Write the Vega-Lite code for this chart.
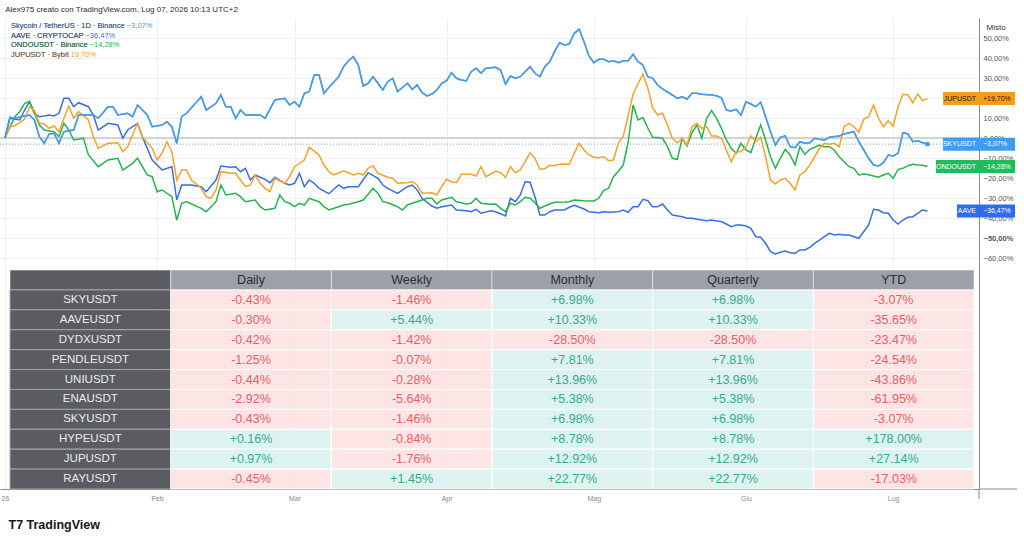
{
"$schema":"https://vega.github.io/schema/vega-lite/v6.json",
"width":979,"height":471,"autosize":"none",
"padding":{"left":0,"top":18,"right":45,"bottom":54},
"background":"#ffffff",
"config":{"view":{"stroke":null},"font":"Liberation Sans"},
"title":{"text":"Alex975 creato con TradingView.com, Lug 07, 2026 10:13 UTC+2","anchor":"start","fontSize":8,"fontWeight":"normal","color":"#2a2a2a","dx":6,"offset":4,"font":"Liberation Sans"},
"datasets":{
"sky":[{"date":"2026-01-01","pct":0},{"date":"2026-01-02","pct":10.35},{"date":"2026-01-03","pct":9.85},{"date":"2026-01-05","pct":11},{"date":"2026-01-06","pct":11.5},{"date":"2026-01-07","pct":9},{"date":"2026-01-08","pct":0.65},{"date":"2026-01-09","pct":-2.65},{"date":"2026-01-10","pct":2},{"date":"2026-01-11","pct":2.35},{"date":"2026-01-12","pct":-2.65},{"date":"2026-01-13","pct":3.15},{"date":"2026-01-15","pct":4},{"date":"2026-01-16","pct":11.5},{"date":"2026-01-19","pct":11.5},{"date":"2026-01-20","pct":9.85},{"date":"2026-01-22","pct":15.65},{"date":"2026-01-23","pct":15.65},{"date":"2026-01-24","pct":11.5},{"date":"2026-01-26","pct":12.35},{"date":"2026-01-27","pct":10.65},{"date":"2026-01-28","pct":16.5},{"date":"2026-01-30","pct":11.5},{"date":"2026-01-31","pct":5.65},{"date":"2026-02-02","pct":6.5},{"date":"2026-02-03","pct":8.15},{"date":"2026-02-04","pct":5.65},{"date":"2026-02-05","pct":-2.65},{"date":"2026-02-06","pct":10.65},{"date":"2026-02-07","pct":12.35},{"date":"2026-02-10","pct":20.65},{"date":"2026-02-11","pct":14},{"date":"2026-02-13","pct":17.35},{"date":"2026-02-14","pct":21.5},{"date":"2026-02-15","pct":15.65},{"date":"2026-02-16","pct":15.65},{"date":"2026-02-17","pct":9.85},{"date":"2026-02-18","pct":14},{"date":"2026-02-19","pct":11.5},{"date":"2026-02-21","pct":11.5},{"date":"2026-02-22","pct":11.5},{"date":"2026-02-23","pct":9.85},{"date":"2026-02-25","pct":19},{"date":"2026-02-27","pct":19.85},{"date":"2026-02-28","pct":16.5},{"date":"2026-03-01","pct":18.15},{"date":"2026-03-02","pct":15.65},{"date":"2026-03-03","pct":22.35},{"date":"2026-03-04","pct":23.15},{"date":"2026-03-05","pct":31.5},{"date":"2026-03-06","pct":31.5},{"date":"2026-03-07","pct":22.35},{"date":"2026-03-08","pct":25.3},{"date":"2026-03-10","pct":30.65},{"date":"2026-03-11","pct":35.65},{"date":"2026-03-12","pct":38.65},{"date":"2026-03-13","pct":40.65},{"date":"2026-03-14","pct":36.5},{"date":"2026-03-15","pct":26},{"date":"2026-03-16","pct":27.35},{"date":"2026-03-17","pct":30.65},{"date":"2026-03-18","pct":27.35},{"date":"2026-03-19","pct":24},{"date":"2026-03-20","pct":28.15},{"date":"2026-03-21","pct":29.85},{"date":"2026-03-22","pct":23.15},{"date":"2026-03-24","pct":27.35},{"date":"2026-03-25","pct":24.35},{"date":"2026-03-26","pct":26.5},{"date":"2026-03-27","pct":22.65},{"date":"2026-03-28","pct":21},{"date":"2026-03-29","pct":22},{"date":"2026-03-30","pct":24},{"date":"2026-03-31","pct":27.35},{"date":"2026-04-01","pct":28.65},{"date":"2026-04-02","pct":32.65},{"date":"2026-04-03","pct":29.85},{"date":"2026-04-04","pct":29},{"date":"2026-04-05","pct":28.5},{"date":"2026-04-06","pct":33.15},{"date":"2026-04-07","pct":34.85},{"date":"2026-04-08","pct":32.35},{"date":"2026-04-09","pct":34.85},{"date":"2026-04-11","pct":35.35},{"date":"2026-04-12","pct":34},{"date":"2026-04-13","pct":27},{"date":"2026-04-14","pct":31},{"date":"2026-04-15","pct":29.85},{"date":"2026-04-16","pct":30.65},{"date":"2026-04-17","pct":33.15},{"date":"2026-04-18","pct":35.65},{"date":"2026-04-19","pct":32.35},{"date":"2026-04-20","pct":30.65},{"date":"2026-04-21","pct":35.65},{"date":"2026-04-22","pct":38.15},{"date":"2026-04-23","pct":43.15},{"date":"2026-04-24","pct":47.65},{"date":"2026-04-25","pct":46.5},{"date":"2026-04-26","pct":47},{"date":"2026-04-27","pct":52.35},{"date":"2026-04-28","pct":54.35},{"date":"2026-04-29","pct":48.15},{"date":"2026-04-30","pct":41},{"date":"2026-05-01","pct":37.65},{"date":"2026-05-02","pct":39.35},{"date":"2026-05-03","pct":39.35},{"date":"2026-05-04","pct":38.15},{"date":"2026-05-05","pct":38.65},{"date":"2026-05-06","pct":37.65},{"date":"2026-05-07","pct":38.65},{"date":"2026-05-08","pct":38.65},{"date":"2026-05-09","pct":41.85},{"date":"2026-05-10","pct":38.15},{"date":"2026-05-11","pct":36.5},{"date":"2026-05-12","pct":30.65},{"date":"2026-05-13","pct":29.85},{"date":"2026-05-14","pct":26.5},{"date":"2026-05-15","pct":24.5},{"date":"2026-05-17","pct":21.5},{"date":"2026-05-18","pct":19.85},{"date":"2026-05-19","pct":20.65},{"date":"2026-05-20","pct":19.5},{"date":"2026-05-21","pct":22.35},{"date":"2026-05-22","pct":22.35},{"date":"2026-05-23","pct":21.85},{"date":"2026-05-25","pct":21.5},{"date":"2026-05-26","pct":21.15},{"date":"2026-05-27","pct":20.15},{"date":"2026-05-28","pct":14},{"date":"2026-05-29","pct":13.5},{"date":"2026-05-30","pct":14.35},{"date":"2026-05-31","pct":11.5},{"date":"2026-06-01","pct":18.15},{"date":"2026-06-02","pct":17},{"date":"2026-06-03","pct":15.65},{"date":"2026-06-04","pct":17.85},{"date":"2026-06-05","pct":10.65},{"date":"2026-06-06","pct":3.15},{"date":"2026-06-07","pct":-3.5},{"date":"2026-06-08","pct":0.35},{"date":"2026-06-09","pct":1},{"date":"2026-06-10","pct":-4.35},{"date":"2026-06-11","pct":-4.85},{"date":"2026-06-12","pct":-1.85},{"date":"2026-06-13","pct":-2.65},{"date":"2026-06-14","pct":-2.35},{"date":"2026-06-15","pct":-0.15},{"date":"2026-06-16","pct":-0.65},{"date":"2026-06-17","pct":-1},{"date":"2026-06-18","pct":0.35},{"date":"2026-06-20","pct":1},{"date":"2026-06-21","pct":2},{"date":"2026-06-23","pct":3.15},{"date":"2026-06-24","pct":-1.85},{"date":"2026-06-25","pct":-6},{"date":"2026-06-26","pct":-10.15},{"date":"2026-06-27","pct":-13.5},{"date":"2026-06-28","pct":-14},{"date":"2026-06-29","pct":-12.35},{"date":"2026-06-30","pct":-8.5},{"date":"2026-07-01","pct":-9},{"date":"2026-07-02","pct":-7.65},{"date":"2026-07-03","pct":2.65},{"date":"2026-07-04","pct":2},{"date":"2026-07-05","pct":-1.85},{"date":"2026-07-06","pct":-1.35},{"date":"2026-07-07","pct":-2.35},{"date":"2026-07-08","pct":-3.07}],
"aave":[{"date":"2026-01-01","pct":0},{"date":"2026-01-02","pct":9.85},{"date":"2026-01-04","pct":9},{"date":"2026-01-05","pct":14},{"date":"2026-01-06","pct":18.15},{"date":"2026-01-07","pct":12.35},{"date":"2026-01-08","pct":10.65},{"date":"2026-01-09","pct":11},{"date":"2026-01-10","pct":11.5},{"date":"2026-01-11","pct":11},{"date":"2026-01-12","pct":12.35},{"date":"2026-01-13","pct":19.85},{"date":"2026-01-14","pct":19.85},{"date":"2026-01-15","pct":15.65},{"date":"2026-01-16","pct":17.65},{"date":"2026-01-18","pct":15.65},{"date":"2026-01-19","pct":11.5},{"date":"2026-01-20","pct":4},{"date":"2026-01-22","pct":7.35},{"date":"2026-01-24","pct":6.5},{"date":"2026-01-25","pct":-0.15},{"date":"2026-01-26","pct":4},{"date":"2026-01-28","pct":7.35},{"date":"2026-01-29","pct":0.65},{"date":"2026-01-31","pct":-11},{"date":"2026-02-02","pct":-16},{"date":"2026-02-04","pct":-14.35},{"date":"2026-02-05","pct":-31},{"date":"2026-02-06","pct":-23.5},{"date":"2026-02-08","pct":-23.5},{"date":"2026-02-10","pct":-24.35},{"date":"2026-02-11","pct":-26.85},{"date":"2026-02-13","pct":-21},{"date":"2026-02-14","pct":-14},{"date":"2026-02-16","pct":-14.65},{"date":"2026-02-17","pct":-14.35},{"date":"2026-02-18","pct":-16.85},{"date":"2026-02-19","pct":-15.15},{"date":"2026-02-20","pct":-21},{"date":"2026-02-21","pct":-18.5},{"date":"2026-02-23","pct":-20.65},{"date":"2026-02-24","pct":-22.35},{"date":"2026-02-25","pct":-19.65},{"date":"2026-02-27","pct":-22.65},{"date":"2026-02-28","pct":-23.5},{"date":"2026-03-01","pct":-22.65},{"date":"2026-03-02","pct":-17.65},{"date":"2026-03-03","pct":-24.35},{"date":"2026-03-04","pct":-21},{"date":"2026-03-05","pct":-22.65},{"date":"2026-03-06","pct":-25.15},{"date":"2026-03-08","pct":-27.85},{"date":"2026-03-10","pct":-23.5},{"date":"2026-03-11","pct":-25.15},{"date":"2026-03-12","pct":-24.35},{"date":"2026-03-14","pct":-24.35},{"date":"2026-03-16","pct":-17.35},{"date":"2026-03-18","pct":-20.15},{"date":"2026-03-19","pct":-23.5},{"date":"2026-03-20","pct":-25.15},{"date":"2026-03-22","pct":-27.65},{"date":"2026-03-24","pct":-24.35},{"date":"2026-03-25","pct":-23.5},{"date":"2026-03-26","pct":-26},{"date":"2026-03-27","pct":-30.15},{"date":"2026-03-29","pct":-34},{"date":"2026-03-30","pct":-35.15},{"date":"2026-03-31","pct":-34.35},{"date":"2026-04-02","pct":-33.5},{"date":"2026-04-03","pct":-36},{"date":"2026-04-05","pct":-36.35},{"date":"2026-04-06","pct":-36.85},{"date":"2026-04-07","pct":-35.65},{"date":"2026-04-08","pct":-37.65},{"date":"2026-04-10","pct":-36.35},{"date":"2026-04-11","pct":-36.85},{"date":"2026-04-13","pct":-39},{"date":"2026-04-14","pct":-30.15},{"date":"2026-04-15","pct":-31.85},{"date":"2026-04-16","pct":-28.5},{"date":"2026-04-17","pct":-21.85},{"date":"2026-04-18","pct":-22.15},{"date":"2026-04-19","pct":-29.35},{"date":"2026-04-20","pct":-38.5},{"date":"2026-04-21","pct":-38.5},{"date":"2026-04-22","pct":-36.85},{"date":"2026-04-23","pct":-36},{"date":"2026-04-25","pct":-36},{"date":"2026-04-26","pct":-34.65},{"date":"2026-04-27","pct":-33.65},{"date":"2026-04-29","pct":-35.5},{"date":"2026-04-30","pct":-36.85},{"date":"2026-05-02","pct":-37.35},{"date":"2026-05-03","pct":-36.85},{"date":"2026-05-04","pct":-37.15},{"date":"2026-05-06","pct":-36.85},{"date":"2026-05-07","pct":-36},{"date":"2026-05-08","pct":-37.15},{"date":"2026-05-09","pct":-34.35},{"date":"2026-05-10","pct":-34.35},{"date":"2026-05-11","pct":-30.65},{"date":"2026-05-12","pct":-31.35},{"date":"2026-05-13","pct":-34.35},{"date":"2026-05-14","pct":-34.35},{"date":"2026-05-15","pct":-33},{"date":"2026-05-16","pct":-36},{"date":"2026-05-17","pct":-38.5},{"date":"2026-05-19","pct":-39.35},{"date":"2026-05-20","pct":-40.15},{"date":"2026-05-21","pct":-40.15},{"date":"2026-05-23","pct":-41},{"date":"2026-05-24","pct":-41.35},{"date":"2026-05-25","pct":-41},{"date":"2026-05-27","pct":-41.85},{"date":"2026-05-28","pct":-43},{"date":"2026-05-29","pct":-44.35},{"date":"2026-05-30","pct":-43.5},{"date":"2026-05-31","pct":-43.5},{"date":"2026-06-01","pct":-44},{"date":"2026-06-02","pct":-45.15},{"date":"2026-06-03","pct":-49.35},{"date":"2026-06-04","pct":-49.65},{"date":"2026-06-05","pct":-52.65},{"date":"2026-06-06","pct":-56.85},{"date":"2026-06-07","pct":-58},{"date":"2026-06-08","pct":-57.15},{"date":"2026-06-09","pct":-56.5},{"date":"2026-06-10","pct":-57.35},{"date":"2026-06-11","pct":-57.65},{"date":"2026-06-12","pct":-56},{"date":"2026-06-13","pct":-56},{"date":"2026-06-14","pct":-54.65},{"date":"2026-06-15","pct":-52.65},{"date":"2026-06-17","pct":-49.35},{"date":"2026-06-18","pct":-47.65},{"date":"2026-06-19","pct":-48.5},{"date":"2026-06-20","pct":-48.15},{"date":"2026-06-21","pct":-48.5},{"date":"2026-06-22","pct":-48.5},{"date":"2026-06-24","pct":-50.15},{"date":"2026-06-25","pct":-46.85},{"date":"2026-06-26","pct":-43.5},{"date":"2026-06-27","pct":-35.65},{"date":"2026-06-28","pct":-36},{"date":"2026-06-29","pct":-37.35},{"date":"2026-06-30","pct":-37.65},{"date":"2026-07-01","pct":-41},{"date":"2026-07-02","pct":-43},{"date":"2026-07-03","pct":-41},{"date":"2026-07-04","pct":-39.65},{"date":"2026-07-05","pct":-39.35},{"date":"2026-07-07","pct":-36},{"date":"2026-07-08","pct":-36.47}],
"jup":[{"date":"2026-01-01","pct":0},{"date":"2026-01-02","pct":5.65},{"date":"2026-01-03","pct":6.15},{"date":"2026-01-05","pct":9.35},{"date":"2026-01-06","pct":15.65},{"date":"2026-01-07","pct":13.65},{"date":"2026-01-08","pct":7.35},{"date":"2026-01-09","pct":7},{"date":"2026-01-10","pct":4.85},{"date":"2026-01-11","pct":6},{"date":"2026-01-12","pct":3.15},{"date":"2026-01-13","pct":9.85},{"date":"2026-01-14","pct":16},{"date":"2026-01-15","pct":9.85},{"date":"2026-01-16","pct":13.15},{"date":"2026-01-18","pct":9},{"date":"2026-01-19","pct":0.65},{"date":"2026-01-20","pct":-5.15},{"date":"2026-01-22","pct":-2.65},{"date":"2026-01-24","pct":-2.35},{"date":"2026-01-25","pct":-6.85},{"date":"2026-01-26","pct":-4.35},{"date":"2026-01-28","pct":7.35},{"date":"2026-01-29","pct":0.65},{"date":"2026-01-31","pct":-5.15},{"date":"2026-02-01","pct":-11},{"date":"2026-02-02","pct":-7.65},{"date":"2026-02-03","pct":-1.85},{"date":"2026-02-04","pct":-6.85},{"date":"2026-02-05","pct":-21},{"date":"2026-02-06","pct":-16},{"date":"2026-02-07","pct":-16},{"date":"2026-02-08","pct":-21},{"date":"2026-02-10","pct":-25.15},{"date":"2026-02-11","pct":-29.35},{"date":"2026-02-12","pct":-30.15},{"date":"2026-02-13","pct":-26},{"date":"2026-02-14","pct":-16.85},{"date":"2026-02-16","pct":-17.65},{"date":"2026-02-17","pct":-17.65},{"date":"2026-02-19","pct":-24.35},{"date":"2026-02-20","pct":-23.5},{"date":"2026-02-21","pct":-18.5},{"date":"2026-02-22","pct":-22.65},{"date":"2026-02-23","pct":-25.15},{"date":"2026-02-24","pct":-26.85},{"date":"2026-02-25","pct":-20.15},{"date":"2026-02-27","pct":-22.65},{"date":"2026-02-28","pct":-19.35},{"date":"2026-03-01","pct":-14.35},{"date":"2026-03-03","pct":-11},{"date":"2026-03-04","pct":-4.65},{"date":"2026-03-06","pct":-8.5},{"date":"2026-03-07","pct":-13.5},{"date":"2026-03-08","pct":-16.85},{"date":"2026-03-09","pct":-18.5},{"date":"2026-03-11","pct":-16.35},{"date":"2026-03-12","pct":-17.35},{"date":"2026-03-13","pct":-18.5},{"date":"2026-03-14","pct":-17.65},{"date":"2026-03-15","pct":-18.5},{"date":"2026-03-16","pct":-15.15},{"date":"2026-03-17","pct":-13.85},{"date":"2026-03-18","pct":-17.65},{"date":"2026-03-20","pct":-19.65},{"date":"2026-03-21","pct":-20.15},{"date":"2026-03-22","pct":-22.65},{"date":"2026-03-24","pct":-22.35},{"date":"2026-03-25","pct":-21.85},{"date":"2026-03-26","pct":-23.5},{"date":"2026-03-27","pct":-27.65},{"date":"2026-03-29","pct":-27.35},{"date":"2026-03-30","pct":-28.5},{"date":"2026-03-31","pct":-24.35},{"date":"2026-04-01","pct":-20.65},{"date":"2026-04-02","pct":-21.85},{"date":"2026-04-03","pct":-22.35},{"date":"2026-04-04","pct":-18.15},{"date":"2026-04-05","pct":-18.15},{"date":"2026-04-06","pct":-18.15},{"date":"2026-04-07","pct":-19},{"date":"2026-04-08","pct":-14.35},{"date":"2026-04-09","pct":-19.35},{"date":"2026-04-10","pct":-18},{"date":"2026-04-11","pct":-16.5},{"date":"2026-04-12","pct":-17.35},{"date":"2026-04-13","pct":-19.65},{"date":"2026-04-14","pct":-14.35},{"date":"2026-04-15","pct":-17.35},{"date":"2026-04-16","pct":-16},{"date":"2026-04-17","pct":-11.85},{"date":"2026-04-18","pct":-7.35},{"date":"2026-04-19","pct":-10.15},{"date":"2026-04-20","pct":-15.65},{"date":"2026-04-21","pct":-15.35},{"date":"2026-04-22","pct":-13.65},{"date":"2026-04-23","pct":-13.85},{"date":"2026-04-24","pct":-13.15},{"date":"2026-04-25","pct":-13},{"date":"2026-04-26","pct":-13.15},{"date":"2026-04-27","pct":-7.65},{"date":"2026-04-28","pct":-2.65},{"date":"2026-04-29","pct":-6},{"date":"2026-04-30","pct":-8.5},{"date":"2026-05-01","pct":-9.65},{"date":"2026-05-02","pct":-9.85},{"date":"2026-05-03","pct":-9.35},{"date":"2026-05-04","pct":-11.35},{"date":"2026-05-05","pct":-11},{"date":"2026-05-06","pct":-2.5},{"date":"2026-05-07","pct":1},{"date":"2026-05-08","pct":11},{"date":"2026-05-09","pct":22},{"date":"2026-05-10","pct":27},{"date":"2026-05-11","pct":32},{"date":"2026-05-12","pct":25},{"date":"2026-05-13","pct":15},{"date":"2026-05-14","pct":11.5},{"date":"2026-05-15","pct":12.35},{"date":"2026-05-16","pct":6.5},{"date":"2026-05-17","pct":-0.15},{"date":"2026-05-18","pct":-2.35},{"date":"2026-05-19","pct":-0.15},{"date":"2026-05-20","pct":-3.5},{"date":"2026-05-21","pct":5.65},{"date":"2026-05-22","pct":7.35},{"date":"2026-05-23","pct":4.85},{"date":"2026-05-24","pct":5.65},{"date":"2026-05-25","pct":1},{"date":"2026-05-26","pct":1},{"date":"2026-05-27","pct":-0.15},{"date":"2026-05-28","pct":-6},{"date":"2026-05-29","pct":-11.85},{"date":"2026-05-30","pct":-6.85},{"date":"2026-05-31","pct":-6.85},{"date":"2026-06-01","pct":-4.35},{"date":"2026-06-02","pct":1},{"date":"2026-06-03","pct":-1.85},{"date":"2026-06-04","pct":0.35},{"date":"2026-06-05","pct":-9.35},{"date":"2026-06-06","pct":-21},{"date":"2026-06-07","pct":-23},{"date":"2026-06-08","pct":-21},{"date":"2026-06-09","pct":-20.15},{"date":"2026-06-10","pct":-22.65},{"date":"2026-06-11","pct":-26},{"date":"2026-06-12","pct":-18.5},{"date":"2026-06-13","pct":-16.85},{"date":"2026-06-14","pct":-13.5},{"date":"2026-06-15","pct":-9.35},{"date":"2026-06-16","pct":-5.15},{"date":"2026-06-17","pct":-2.65},{"date":"2026-06-18","pct":-3.15},{"date":"2026-06-19","pct":-2.65},{"date":"2026-06-20","pct":-4.35},{"date":"2026-06-21","pct":5.65},{"date":"2026-06-22","pct":7.35},{"date":"2026-06-23","pct":5.65},{"date":"2026-06-24","pct":2.85},{"date":"2026-06-25","pct":9.35},{"date":"2026-06-26","pct":10.65},{"date":"2026-06-27","pct":16.5},{"date":"2026-06-28","pct":9.85},{"date":"2026-06-29","pct":5.65},{"date":"2026-06-30","pct":8.65},{"date":"2026-07-01","pct":6},{"date":"2026-07-02","pct":15.65},{"date":"2026-07-03","pct":21.85},{"date":"2026-07-04","pct":21.5},{"date":"2026-07-05","pct":17.65},{"date":"2026-07-06","pct":22},{"date":"2026-07-07","pct":18.65},{"date":"2026-07-08","pct":19.7}],
"ondo":[{"date":"2026-01-01","pct":0},{"date":"2026-01-03","pct":10.65},{"date":"2026-01-04","pct":13.15},{"date":"2026-01-05","pct":17.35},{"date":"2026-01-06","pct":18.15},{"date":"2026-01-07","pct":12.35},{"date":"2026-01-08","pct":6.5},{"date":"2026-01-09","pct":4},{"date":"2026-01-11","pct":3.15},{"date":"2026-01-12","pct":0.65},{"date":"2026-01-13","pct":7.35},{"date":"2026-01-14","pct":4},{"date":"2026-01-15","pct":-1},{"date":"2026-01-17","pct":-0.15},{"date":"2026-01-18","pct":-8.5},{"date":"2026-01-20","pct":-14.35},{"date":"2026-01-22","pct":-11},{"date":"2026-01-24","pct":-10.15},{"date":"2026-01-25","pct":-16},{"date":"2026-01-27","pct":-12.65},{"date":"2026-01-28","pct":-10.15},{"date":"2026-01-30","pct":-18.5},{"date":"2026-01-31","pct":-19.35},{"date":"2026-02-01","pct":-26.85},{"date":"2026-02-02","pct":-26},{"date":"2026-02-04","pct":-29.35},{"date":"2026-02-05","pct":-41},{"date":"2026-02-06","pct":-32.65},{"date":"2026-02-07","pct":-31.85},{"date":"2026-02-10","pct":-35.15},{"date":"2026-02-11","pct":-36.85},{"date":"2026-02-13","pct":-31.85},{"date":"2026-02-14","pct":-23.5},{"date":"2026-02-15","pct":-28.5},{"date":"2026-02-17","pct":-27.65},{"date":"2026-02-18","pct":-29.35},{"date":"2026-02-19","pct":-31.85},{"date":"2026-02-21","pct":-31},{"date":"2026-02-22","pct":-34.35},{"date":"2026-02-23","pct":-36},{"date":"2026-02-25","pct":-35.15},{"date":"2026-02-26","pct":-28.5},{"date":"2026-02-27","pct":-31.85},{"date":"2026-02-28","pct":-32.65},{"date":"2026-03-01","pct":-34.35},{"date":"2026-03-02","pct":-32.65},{"date":"2026-03-03","pct":-33.5},{"date":"2026-03-04","pct":-30.15},{"date":"2026-03-06","pct":-31.85},{"date":"2026-03-07","pct":-34.35},{"date":"2026-03-08","pct":-36},{"date":"2026-03-10","pct":-34.35},{"date":"2026-03-11","pct":-33.5},{"date":"2026-03-12","pct":-33.15},{"date":"2026-03-14","pct":-31.85},{"date":"2026-03-15","pct":-31},{"date":"2026-03-17","pct":-25.15},{"date":"2026-03-18","pct":-27.65},{"date":"2026-03-19","pct":-31.85},{"date":"2026-03-20","pct":-32.35},{"date":"2026-03-22","pct":-34.35},{"date":"2026-03-23","pct":-36},{"date":"2026-03-24","pct":-33.5},{"date":"2026-03-25","pct":-32.65},{"date":"2026-03-27","pct":-31},{"date":"2026-03-28","pct":-30.15},{"date":"2026-03-29","pct":-30.15},{"date":"2026-03-30","pct":-33},{"date":"2026-03-31","pct":-31},{"date":"2026-04-02","pct":-29.65},{"date":"2026-04-03","pct":-31.85},{"date":"2026-04-04","pct":-32.35},{"date":"2026-04-05","pct":-33},{"date":"2026-04-06","pct":-32.65},{"date":"2026-04-07","pct":-30.15},{"date":"2026-04-08","pct":-32.65},{"date":"2026-04-10","pct":-33.15},{"date":"2026-04-11","pct":-33},{"date":"2026-04-12","pct":-35.15},{"date":"2026-04-13","pct":-36.85},{"date":"2026-04-14","pct":-32.65},{"date":"2026-04-15","pct":-33.5},{"date":"2026-04-16","pct":-31.85},{"date":"2026-04-17","pct":-29.65},{"date":"2026-04-18","pct":-30.15},{"date":"2026-04-19","pct":-32.35},{"date":"2026-04-20","pct":-35.15},{"date":"2026-04-21","pct":-34},{"date":"2026-04-22","pct":-33},{"date":"2026-04-23","pct":-32.15},{"date":"2026-04-25","pct":-32},{"date":"2026-04-26","pct":-31.85},{"date":"2026-04-27","pct":-31},{"date":"2026-04-29","pct":-31.35},{"date":"2026-05-01","pct":-31.5},{"date":"2026-05-02","pct":-30.15},{"date":"2026-05-03","pct":-26.35},{"date":"2026-05-04","pct":-25.15},{"date":"2026-05-05","pct":-19.35},{"date":"2026-05-06","pct":-16.6},{"date":"2026-05-07","pct":-13.5},{"date":"2026-05-08","pct":-2},{"date":"2026-05-09","pct":16.5},{"date":"2026-05-10","pct":9},{"date":"2026-05-11","pct":10.25},{"date":"2026-05-12","pct":5},{"date":"2026-05-13","pct":0.35},{"date":"2026-05-14","pct":0.25},{"date":"2026-05-15","pct":-0.15},{"date":"2026-05-16","pct":-4.35},{"date":"2026-05-17","pct":-10.15},{"date":"2026-05-18","pct":-10.65},{"date":"2026-05-19","pct":-0.15},{"date":"2026-05-20","pct":-4},{"date":"2026-05-21","pct":2.65},{"date":"2026-05-22","pct":6.5},{"date":"2026-05-23","pct":-0.15},{"date":"2026-05-24","pct":9.85},{"date":"2026-05-25","pct":13.65},{"date":"2026-05-26","pct":9.85},{"date":"2026-05-27","pct":4.85},{"date":"2026-05-28","pct":-1},{"date":"2026-05-29","pct":-5.15},{"date":"2026-05-30","pct":-7.65},{"date":"2026-05-31","pct":-2.65},{"date":"2026-06-01","pct":-6},{"date":"2026-06-02","pct":-7.35},{"date":"2026-06-03","pct":-0.15},{"date":"2026-06-04","pct":6.5},{"date":"2026-06-05","pct":-1},{"date":"2026-06-06","pct":-9.35},{"date":"2026-06-07","pct":-15.15},{"date":"2026-06-08","pct":-10.15},{"date":"2026-06-09","pct":-5.65},{"date":"2026-06-10","pct":-8.5},{"date":"2026-06-11","pct":-13.5},{"date":"2026-06-12","pct":-4.35},{"date":"2026-06-13","pct":-8.15},{"date":"2026-06-14","pct":-5.65},{"date":"2026-06-15","pct":-4.65},{"date":"2026-06-16","pct":-3.5},{"date":"2026-06-17","pct":-4.35},{"date":"2026-06-18","pct":-4.35},{"date":"2026-06-19","pct":-6},{"date":"2026-06-20","pct":-9.35},{"date":"2026-06-21","pct":-11.85},{"date":"2026-06-22","pct":-14.35},{"date":"2026-06-23","pct":-15.15},{"date":"2026-06-24","pct":-18.5},{"date":"2026-06-25","pct":-18},{"date":"2026-06-26","pct":-18.35},{"date":"2026-06-27","pct":-19},{"date":"2026-06-28","pct":-19.65},{"date":"2026-06-29","pct":-18.5},{"date":"2026-06-30","pct":-17.65},{"date":"2026-07-01","pct":-20.15},{"date":"2026-07-02","pct":-15.65},{"date":"2026-07-03","pct":-15.15},{"date":"2026-07-04","pct":-13.85},{"date":"2026-07-05","pct":-13.15},{"date":"2026-07-06","pct":-13.5},{"date":"2026-07-07","pct":-13.65},{"date":"2026-07-08","pct":-14.28}],
"tags":[{"sym":"JUP","label":"JUPUSDT","val":"+19,70%","pct":19.7,"date":"2026-07-08"},{"sym":"SKY","label":"SKYUSDT","val":"−3,07%","pct":-3.07,"date":"2026-07-08"},{"sym":"ONDO","label":"ONDOUSDT","val":"−14,28%","pct":-14.28,"date":"2026-07-08"},{"sym":"AAVE","label":"AAVE","val":"−36,47%","pct":-36.47,"date":"2026-07-08"}],
"legend":[{"k":0,"sym":"SKY","name":"Skycoin / TetherUS · 1D · Binance","val":"−3,07%"},{"k":1,"sym":"AAVE","name":"AAVE · CRYPTOCAP","val":"−36,47%"},{"k":2,"sym":"ONDO","name":"ONDOUSDT · Binance","val":"−14,28%"},{"k":3,"sym":"JUP","name":"JUPUSDT · Bybit","val":"19,70%"}],
"hdr":[{"r":0,"col":"Symbol","label":""},{"r":0,"col":"Daily","label":"Daily"},{"r":0,"col":"Weekly","label":"Weekly"},{"r":0,"col":"Monthly","label":"Monthly"},{"r":0,"col":"Quarterly","label":"Quarterly"},{"r":0,"col":"YTD","label":"YTD"}],
"tbl":[
{"r":1,"name":"SKYUSDT","Daily":-0.43,"Weekly":-1.46,"Monthly":6.98,"Quarterly":6.98,"YTD":-3.07},
{"r":2,"name":"AAVEUSDT","Daily":-0.30,"Weekly":5.44,"Monthly":10.33,"Quarterly":10.33,"YTD":-35.65},
{"r":3,"name":"DYDXUSDT","Daily":-0.42,"Weekly":-1.42,"Monthly":-28.50,"Quarterly":-28.50,"YTD":-23.47},
{"r":4,"name":"PENDLEUSDT","Daily":-1.25,"Weekly":-0.07,"Monthly":7.81,"Quarterly":7.81,"YTD":-24.54},
{"r":5,"name":"UNIUSDT","Daily":-0.44,"Weekly":-0.28,"Monthly":13.96,"Quarterly":13.96,"YTD":-43.86},
{"r":6,"name":"ENAUSDT","Daily":-2.92,"Weekly":-5.64,"Monthly":5.38,"Quarterly":5.38,"YTD":-61.95},
{"r":7,"name":"SKYUSDT","Daily":-0.43,"Weekly":-1.46,"Monthly":6.98,"Quarterly":6.98,"YTD":-3.07},
{"r":8,"name":"HYPEUSDT","Daily":0.16,"Weekly":-0.84,"Monthly":8.78,"Quarterly":8.78,"YTD":178.00},
{"r":9,"name":"JUPUSDT","Daily":0.97,"Weekly":-1.76,"Monthly":12.92,"Quarterly":12.92,"YTD":27.14},
{"r":10,"name":"RAYUSDT","Daily":-0.45,"Weekly":1.45,"Monthly":22.77,"Quarterly":22.77,"YTD":-17.03}]
},
"layer":[
{
"layer":[
{"data":{"name":"sky"},"mark":{"type":"line","color":"#4A9BE6","strokeWidth":1.5},
"encoding":{
"x":{"field":"date","type":"temporal","scale":{"type":"utc","domain":[{"year":2025,"month":12,"date":30,"hours":23,"minutes":32,"utc":true},{"year":2026,"month":7,"date":18,"hours":11,"minutes":46,"utc":true}],"nice":false},
"axis":{"title":"T7 TradingView","titleFont":"Liberation Sans","titleFontSize":12.5,"titleFontWeight":"bold","titleColor":"#131722","titleAnchor":"start","titleAlign":"left","titleBaseline":"middle","titleX":8,"titleY":35,
"values":[{"year":2026,"month":1,"date":1,"utc":true},{"year":2026,"month":2,"date":1,"utc":true},{"year":2026,"month":3,"date":1,"utc":true},{"year":2026,"month":4,"date":1,"utc":true},{"year":2026,"month":5,"date":1,"utc":true},{"year":2026,"month":6,"date":1,"utc":true},{"year":2026,"month":7,"date":1,"utc":true}],
"labelExpr":"['26','Feb','Mar','Apr','Mag','Giu','Lug'][utcmonth(datum.value)]","labelFontSize":7,"labelColor":"#8a8a8a","labelPadding":5,"ticks":false,"domain":true,"domainColor":"#8a8a8a","grid":true,"gridColor":"#eceff4","labelFont":"Liberation Sans"}},
"y":{"field":"pct","type":"quantitative","scale":{"domain":[-175.5,60],"nice":false,"zero":false},
"axis":{"orient":"right","title":"Misto","titleAngle":0,"titleAlign":"left","titleBaseline":"middle","titleX":7,"titleY":9,"titleFontSize":8,"titleFontWeight":"normal","titleColor":"#333333","titleFont":"Liberation Sans",
"values":[-60,-50,-40,-30,-20,-10,0,10,20,30,40,50],
"labelExpr":"(datum.value < 0 ? '−' : '') + replace(format(abs(datum.value), '.2f'), '.', ',') + '%'",
"labelFontSize":7.5,"labelColor":"#555555","labelPadding":4,"labelFont":"Liberation Sans","ticks":false,"domain":true,"domainColor":"#8a8a8a","grid":true,"gridColor":"#eceff4",
"labelFontWeight":{"condition":{"test":"datum.value == -50","value":"bold"},"value":"normal"}}}}},
{"data":{"values":[{}]},"mark":{"type":"rule","color":"#c5c7cd","strokeWidth":1.5},
"encoding":{"y":{"datum":0,"type":"quantitative","scale":{"domain":[-175.5,60],"nice":false,"zero":false}}}},
{"data":{"name":"tags"},"transform":[{"filter":"datum.sym === 'SKY'"}],"mark":{"type":"rule","color":"#7fa9d9","strokeDash":[1,2],"strokeWidth":1},
"encoding":{"y":{"field":"pct","type":"quantitative","scale":{"domain":[-175.5,60],"nice":false,"zero":false}}}},
{"data":{"name":"aave"},"mark":{"type":"line","color":"#3A6EE0","strokeWidth":1.5},
"encoding":{"x":{"field":"date","type":"temporal","scale":{"type":"utc","domain":[{"year":2025,"month":12,"date":30,"hours":23,"minutes":32,"utc":true},{"year":2026,"month":7,"date":18,"hours":11,"minutes":46,"utc":true}],"nice":false}},
"y":{"field":"pct","type":"quantitative","scale":{"domain":[-175.5,60],"nice":false,"zero":false}}}},
{"data":{"name":"ondo"},"mark":{"type":"line","color":"#25B24F","strokeWidth":1.5},
"encoding":{"x":{"field":"date","type":"temporal","scale":{"type":"utc","domain":[{"year":2025,"month":12,"date":30,"hours":23,"minutes":32,"utc":true},{"year":2026,"month":7,"date":18,"hours":11,"minutes":46,"utc":true}],"nice":false}},
"y":{"field":"pct","type":"quantitative","scale":{"domain":[-175.5,60],"nice":false,"zero":false}}}},
{"data":{"name":"jup"},"mark":{"type":"line","color":"#F5A229","strokeWidth":1.5},
"encoding":{"x":{"field":"date","type":"temporal","scale":{"type":"utc","domain":[{"year":2025,"month":12,"date":30,"hours":23,"minutes":32,"utc":true},{"year":2026,"month":7,"date":18,"hours":11,"minutes":46,"utc":true}],"nice":false}},
"y":{"field":"pct","type":"quantitative","scale":{"domain":[-175.5,60],"nice":false,"zero":false}}}},
{"data":{"name":"sky"},"mark":{"type":"line","color":"#4A9BE6","strokeWidth":1.5},
"encoding":{"x":{"field":"date","type":"temporal","scale":{"type":"utc","domain":[{"year":2025,"month":12,"date":30,"hours":23,"minutes":32,"utc":true},{"year":2026,"month":7,"date":18,"hours":11,"minutes":46,"utc":true}],"nice":false}},
"y":{"field":"pct","type":"quantitative","scale":{"domain":[-175.5,60],"nice":false,"zero":false}}}},
{"data":{"name":"tags"},"transform":[{"filter":"datum.sym === 'SKY'"}],"mark":{"type":"point","filled":true,"color":"#4A9BE6","size":22,"opacity":1},
"encoding":{"x":{"field":"date","type":"temporal","scale":{"type":"utc","domain":[{"year":2025,"month":12,"date":30,"hours":23,"minutes":32,"utc":true},{"year":2026,"month":7,"date":18,"hours":11,"minutes":46,"utc":true}],"nice":false}},
"y":{"field":"pct","type":"quantitative","scale":{"domain":[-175.5,60],"nice":false,"zero":false}}}},
{"data":{"values":[{}]},"mark":{"type":"rule","color":"#8a8a8a","strokeWidth":1},
"encoding":{"x":{"datum":{"year":2026,"month":7,"date":18,"hours":11,"minutes":46,"utc":true},"type":"temporal","scale":{"type":"utc","domain":[{"year":2025,"month":12,"date":30,"hours":23,"minutes":32,"utc":true},{"year":2026,"month":7,"date":18,"hours":11,"minutes":46,"utc":true}],"nice":false}},
"x2":{"datum":{"year":2026,"month":7,"date":26,"hours":6,"utc":true}},
"y":{"datum":-175.5,"type":"quantitative","scale":{"domain":[-175.5,60],"nice":false,"zero":false}}}},
{"data":{"values":[{}]},"mark":{"type":"rule","color":"#8a8a8a","strokeWidth":1},
"encoding":{"x":{"datum":{"year":2026,"month":7,"date":18,"hours":11,"minutes":46,"utc":true},"type":"temporal","scale":{"type":"utc","domain":[{"year":2025,"month":12,"date":30,"hours":23,"minutes":32,"utc":true},{"year":2026,"month":7,"date":18,"hours":11,"minutes":46,"utc":true}],"nice":false}},
"y":{"datum":-175.5,"type":"quantitative","scale":{"domain":[-175.5,60],"nice":false,"zero":false}},
"y2":{"datum":-180.5}}},
{"data":{"name":"tags"},"transform":[{"filter":"datum.sym === 'JUP'"}],"mark":{"type":"rule","color":"#F89D1A","strokeWidth":13,"strokeCap":"butt"},
"encoding":{"x":{"datum":{"year":2026,"month":7,"date":11,"hours":4,"utc":true},"type":"temporal","scale":{"type":"utc","domain":[{"year":2025,"month":12,"date":30,"hours":23,"minutes":32,"utc":true},{"year":2026,"month":7,"date":18,"hours":11,"minutes":46,"utc":true}],"nice":false}},
"x2":{"datum":{"year":2026,"month":7,"date":25,"hours":20,"utc":true}},
"y":{"field":"pct","type":"quantitative","scale":{"domain":[-175.5,60],"nice":false,"zero":false}}}},
{"data":{"name":"tags"},"transform":[{"filter":"datum.sym === 'SKY'"}],"mark":{"type":"rule","color":"#3F9CEE","strokeWidth":13,"strokeCap":"butt"},
"encoding":{"x":{"datum":{"year":2026,"month":7,"date":11,"hours":4,"utc":true},"type":"temporal","scale":{"type":"utc","domain":[{"year":2025,"month":12,"date":30,"hours":23,"minutes":32,"utc":true},{"year":2026,"month":7,"date":18,"hours":11,"minutes":46,"utc":true}],"nice":false}},
"x2":{"datum":{"year":2026,"month":7,"date":25,"hours":20,"utc":true}},
"y":{"field":"pct","type":"quantitative","scale":{"domain":[-175.5,60],"nice":false,"zero":false}}}},
{"data":{"name":"tags"},"transform":[{"filter":"datum.sym === 'ONDO'"}],"mark":{"type":"rule","color":"#1DBE5A","strokeWidth":13,"strokeCap":"butt"},
"encoding":{"x":{"datum":{"year":2026,"month":7,"date":9,"hours":17,"utc":true},"type":"temporal","scale":{"type":"utc","domain":[{"year":2025,"month":12,"date":30,"hours":23,"minutes":32,"utc":true},{"year":2026,"month":7,"date":18,"hours":11,"minutes":46,"utc":true}],"nice":false}},
"x2":{"datum":{"year":2026,"month":7,"date":25,"hours":20,"utc":true}},
"y":{"field":"pct","type":"quantitative","scale":{"domain":[-175.5,60],"nice":false,"zero":false}}}},
{"data":{"name":"tags"},"transform":[{"filter":"datum.sym === 'AAVE'"}],"mark":{"type":"rule","color":"#2F6CEB","strokeWidth":13,"strokeCap":"butt"},
"encoding":{"x":{"datum":{"year":2026,"month":7,"date":14,"utc":true},"type":"temporal","scale":{"type":"utc","domain":[{"year":2025,"month":12,"date":30,"hours":23,"minutes":32,"utc":true},{"year":2026,"month":7,"date":18,"hours":11,"minutes":46,"utc":true}],"nice":false}},
"x2":{"datum":{"year":2026,"month":7,"date":25,"hours":20,"utc":true}},
"y":{"field":"pct","type":"quantitative","scale":{"domain":[-175.5,60],"nice":false,"zero":false}}}},
{"data":{"name":"tags"},"mark":{"type":"text","align":"right","baseline":"middle","dx":-3,"fontSize":7,"font":"Liberation Sans"},
"encoding":{"x":{"datum":{"year":2026,"month":7,"date":18,"hours":11,"minutes":46,"utc":true},"type":"temporal","scale":{"type":"utc","domain":[{"year":2025,"month":12,"date":30,"hours":23,"minutes":32,"utc":true},{"year":2026,"month":7,"date":18,"hours":11,"minutes":46,"utc":true}],"nice":false}},
"y":{"field":"pct","type":"quantitative","scale":{"domain":[-175.5,60],"nice":false,"zero":false}},
"text":{"field":"label"},
"color":{"condition":{"test":"datum.sym === 'JUP'","value":"#2a1a00"},"value":"#ffffff"}}},
{"data":{"name":"tags"},"mark":{"type":"text","align":"left","baseline":"middle","dx":4,"fontSize":7,"font":"Liberation Sans"},
"encoding":{"x":{"datum":{"year":2026,"month":7,"date":18,"hours":11,"minutes":46,"utc":true},"type":"temporal","scale":{"type":"utc","domain":[{"year":2025,"month":12,"date":30,"hours":23,"minutes":32,"utc":true},{"year":2026,"month":7,"date":18,"hours":11,"minutes":46,"utc":true}],"nice":false}},
"y":{"field":"pct","type":"quantitative","scale":{"domain":[-175.5,60],"nice":false,"zero":false}},
"text":{"field":"val"},
"color":{"condition":{"test":"datum.sym === 'JUP'","value":"#2a1a00"},"value":"#ffffff"}}}
]
},
{
"encoding":{
"x":{"field":"col","type":"nominal","scale":{"type":"band","domain":["Symbol","Daily","Weekly","Monthly","Quarterly","YTD"],"paddingInner":0,"paddingOuter":0.0467,"align":0.667},"axis":null},
"y":{"field":"r","type":"ordinal","scale":{"type":"band","domain":[-12,-11,-10,-9,-8,-7,-6,-5,-4,-3,-2,-1,0,1,2,3,4,5,6,7,8,9,10],"paddingInner":0,"paddingOuter":0.329,"align":1},"axis":null}
},
"layer":[
{"data":{"name":"hdr"},"mark":{"type":"rect","stroke":"#ffffff","strokeWidth":1,"strokeOpacity":0.5,"opacity":0.96},
"encoding":{"fill":{"condition":{"test":"datum.col === 'Symbol'","value":"#55575d"},"value":"#9a9da5"}}},
{"data":{"name":"hdr"},"mark":{"type":"text","fontSize":12.5,"color":"#2b2d33","font":"Liberation Sans","baseline":"middle"},
"encoding":{"text":{"field":"label"}}},
{"data":{"name":"tbl"},"transform":[{"calculate":"'Symbol'","as":"col"}],"mark":{"type":"rect","fill":"#55575d","stroke":"#a3a5ab","strokeWidth":1,"opacity":0.97}},
{"data":{"name":"tbl"},"transform":[{"calculate":"'Symbol'","as":"col"}],"mark":{"type":"text","fontSize":11.5,"color":"#ebebec","font":"Liberation Sans","baseline":"middle"},
"encoding":{"text":{"field":"name"}}},
{"data":{"name":"tbl"},"transform":[{"fold":["Daily","Weekly","Monthly","Quarterly","YTD"],"as":["col","v"]}],"mark":{"type":"rect","stroke":"#ffffff","strokeWidth":1,"opacity":0.92},
"encoding":{"fill":{"condition":{"test":"datum.v >= 0","value":"#dcf2ee"},"value":"#fde3e3"}}},
{"data":{"name":"tbl"},"transform":[{"fold":["Daily","Weekly","Monthly","Quarterly","YTD"],"as":["col","v"]},{"calculate":"(datum.v >= 0 ? '+' : '-') + format(abs(datum.v), '.2f') + '%'","as":"label"}],"mark":{"type":"text","fontSize":12.5,"font":"Liberation Sans","baseline":"middle"},
"encoding":{"text":{"field":"label"},"color":{"condition":{"test":"datum.v >= 0","value":"#34ab8a"},"value":"#e85d68"}}}
]
},
{
"data":{"name":"legend"},
"transform":[{"calculate":"datum.name + '  ' + datum.val","as":"full"}],
"encoding":{
"x":{"datum":0,"type":"quantitative","scale":{"domain":[0,1],"nice":false,"zero":false},"axis":null},
"y":{"field":"k","type":"quantitative","scale":{"domain":[-0.78,46.94],"reverse":true,"nice":false,"zero":false},"axis":null}
},
"layer":[
{"mark":{"type":"text","align":"left","baseline":"middle","dx":11,"fontSize":7.5,"font":"Liberation Sans"},
"encoding":{"text":{"field":"full"},"color":{"field":"sym","type":"nominal","scale":{"domain":["SKY","AAVE","ONDO","JUP"],"range":["#4A9BE6","#3A6EE0","#25B24F","#F5A229"]},"legend":null}}},
{"mark":{"type":"text","align":"left","baseline":"middle","dx":11,"fontSize":7.5,"font":"Liberation Sans","color":"#555a66"},
"encoding":{"text":{"field":"name"}}}
]
}
],
"resolve":{"scale":{"x":"independent","y":"independent","color":"independent"}}
}
